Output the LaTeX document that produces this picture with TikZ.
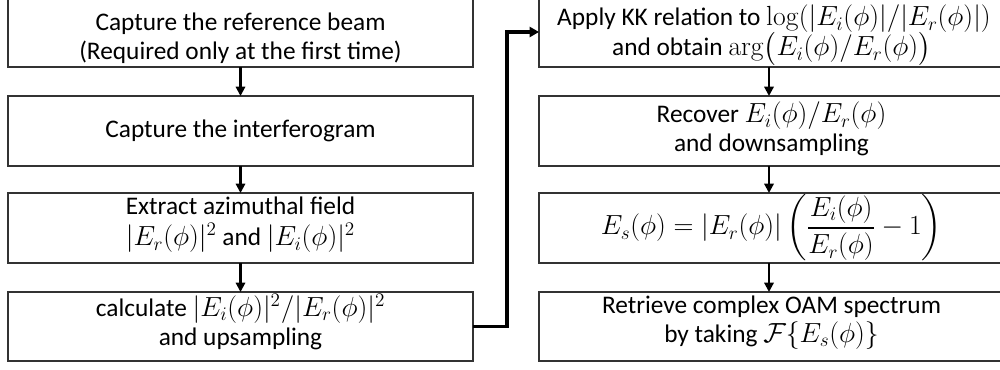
\documentclass[tikz,border=0pt]{standalone}
\usepackage[no-math]{fontspec}
\setmainfont{Carlito}
\usepackage{amsmath}
\DeclareMathSizes{19}{20.5}{15}{11}
\DeclareMathSizes{16}{20}{14.5}{10.5}
\usetikzlibrary{arrows.meta}
\newcommand\flowfont{\fontsize{19}{23}\selectfont}
\newcommand\formfont{\fontsize{16}{19}\selectfont}
\begin{document}
\begin{tikzpicture}[x=0.75pt,y=-0.75pt,
  stepbox/.style={draw=black!80,line width=0.8pt,rectangle,inner sep=0pt,outer sep=0pt,
    minimum width=348.75pt,minimum height=52.5pt,align=center,font=\flowfont},
  linetext/.style={inner sep=0pt,outer sep=0pt,anchor=base,font=\flowfont},
  flow/.style={line width=1.6pt,-{Triangle[length=7pt,width=7pt]}},
  link/.style={line width=2.3pt,-{Triangle[length=7pt,width=7.5pt]}}]
\useasboundingbox (0,0) rectangle (1000,370);
% left column boxes
\node[stepbox] (L1) at (240.5,32) {};
\node[stepbox] (L2) at (240.5,131) {};
\node[stepbox] (L3) at (240.5,228) {};
\node[stepbox,minimum height=51.75pt] (L4) at (240.5,326.5) {};
% right column boxes
\node[stepbox] (R1) at (771.5,32) {};
\node[stepbox] (R2) at (771.5,131) {};
\node[stepbox,font=\formfont] (R3) at (771.5,228) {$E_s(\phi)=|E_r(\phi)|\left(\dfrac{E_i(\phi)}{E_r(\phi)}-1\right)$};
\node[stepbox,minimum height=51.75pt] (R4) at (771.5,326.5) {};
% texts
\node[linetext] (L1a) at (240.5,31) {Capture the reference beam};
\node[linetext] (L1b) at (240.5,59.5) {(Required only at the first time)};
\node[linetext] (L2a) at (240.5,137.5) {Capture the interferogram};
\node[linetext] (L3a) at (240.5,215) {Extract azimuthal field};
\node[linetext] (L3b) at (240.5,246) {$|E_r(\phi)|^2$ and $|E_i(\phi)|^2$};
\node[linetext] (L4a) at (240.5,316.5) {calculate $|E_i(\phi)|^2/|E_r(\phi)|^2$};
\node[linetext] (L4b) at (240.5,345.5) {and upsampling};
\node[linetext] (R1a) at (774,26) {Apply KK relation to $\log(|E_i(\phi)|/|E_r(\phi)|)$};
\node[linetext] (R1b) at (771.5,56) {and obtain $\arg\bigl(E_i(\phi)/E_r(\phi)\bigr)$};
\node[linetext] (R2a) at (771.5,123) {Recover $E_i(\phi)/E_r(\phi)$};
\node[linetext] (R2b) at (771.5,151.5) {and downsampling};
\node[linetext] (R4a) at (771.5,314) {Retrieve complex OAM spectrum};
\node[linetext] (R4b) at (771.5,342.5) {by taking $\mathcal{F}\{E_s(\phi)\}$};
% connectors
\coordinate (rcol) at (769,0);
\draw[flow] (L1) -- (L2);
\draw[flow] (L2) -- (L3);
\draw[flow] (L3) -- (L4);
\draw[flow] (R1.south -| rcol) -- (R2.north -| rcol);
\draw[flow] (R2.south -| rcol) -- (R3.north -| rcol);
\draw[flow] (R3.south -| rcol) -- (R4.north -| rcol);
\coordinate (turn) at (507,326.5);
\draw[link] (L4.east) -- (turn) |- (R1.west);
\end{tikzpicture}
\end{document}
